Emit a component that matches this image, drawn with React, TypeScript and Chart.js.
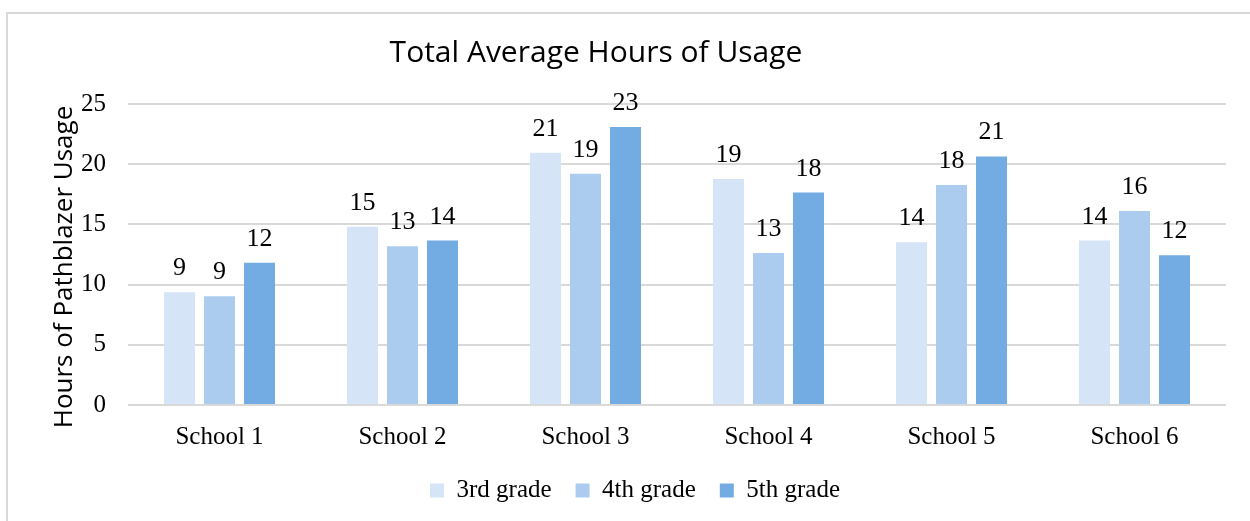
import React, { useEffect, useRef } from "react";
import { Chart, registerables } from "chart.js";

Chart.register(...registerables);

const categories = ["School 1", "School 2", "School 3", "School 4", "School 5", "School 6"];
const seriesLabels = ["3rd grade", "4th grade", "5th grade"];
const grade3 = [9.37, 14.8, 20.95, 18.78, 13.52, 13.66];
const grade4 = [9.04, 13.19, 19.2, 12.63, 18.28, 16.11];
const grade5 = [11.82, 13.66, 23.09, 17.64, 20.64, 12.44];
const seriesColors = ["#D5E4F6", "#ABCCEF", "#72ACE2"];
const yTicks = [0, 5, 10, 15, 20, 25];
const titleText = "Total Average Hours of Usage";
const yTitleText = "Hours of Pathblazer Usage";

const serif = '"Liberation Serif", "Times New Roman", serif';
const sans = '"Open Sans", "Noto Sans", sans-serif';

export default function App() {
  const ref = useRef<HTMLCanvasElement>(null);

  useEffect(() => {
    if (!ref.current) return;

    const titlePlugin = {
      id: "customTitles",
      afterDraw(chart: any) {
        const ctx = chart.ctx;
        ctx.save();
        ctx.font = `30px ${sans}`;
        ctx.fillStyle = "#000";
        ctx.textAlign = "center";
        ctx.textBaseline = "alphabetic";
        ctx.fillText(titleText, 596, 62);
        ctx.restore();

        ctx.save();
        ctx.font = `26px ${sans}`;
        ctx.fillStyle = "#000";
        ctx.textAlign = "center";
        ctx.textBaseline = "middle";
        ctx.translate(65, 267);
        ctx.rotate(-Math.PI / 2);
        ctx.fillText(yTitleText, 0, 0);
        ctx.restore();
      },
    };

    const labelPlugin = {
      id: "barLabels",
      afterDatasetsDraw(chart: any) {
        const ctx = chart.ctx;
        ctx.save();
        ctx.font = `26px ${serif}`;
        ctx.fillStyle = "#000";
        ctx.textAlign = "center";
        ctx.textBaseline = "alphabetic";
        chart.data.datasets.forEach((ds: any, i: number) => {
          const meta = chart.getDatasetMeta(i);
          meta.data.forEach((el: any, j: number) => {
            ctx.fillText(String(Math.round(ds.data[j])), el.x, el.y - 17);
          });
        });
        ctx.restore();
      },
    };

    const values = [grade3, grade4, grade5];
    const chart = new Chart(ref.current, {
      type: "bar",
      data: {
        labels: categories,
        datasets: values.map((v, i) => ({
          label: seriesLabels[i],
          data: v,
          backgroundColor: seriesColors[i],
          borderWidth: 0,
          categoryPercentage: 0.656,
          barPercentage: 0.775,
        })),
      },
      options: {
        responsive: false,
        animation: false,
        layout: { padding: { left: 44, right: 24, top: 104, bottom: 8 } },
        plugins: {
          title: { display: false },
          tooltip: { enabled: false },
          legend: {
            position: "bottom",
            labels: {
              boxWidth: 14,
              boxHeight: 14,
              padding: 24,
              color: "#000",
              font: { family: serif, size: 25 },
            },
          },
        },
        scales: {
          x: {
            afterFit(s: any) {
              s.height = 49;
            },
            grid: { display: false, drawTicks: false },
            border: { display: false },
            ticks: { color: "#000", padding: 17, font: { family: serif, size: 25 } },
          },
          y: {
            min: 0,
            max: 25,
            afterFit(s: any) {
              s.width = 84;
            },
            afterBuildTicks(s: any) {
              s.ticks = yTicks.map((v) => ({ value: v }));
            },
            grid: { color: "#D9D9D9", lineWidth: 2, drawTicks: false },
            border: { display: false },
            ticks: { color: "#000", padding: 22, font: { family: serif, size: 25 } },
            title: { display: false },
          },
        },
      },
      plugins: [titlePlugin, labelPlugin],
    });
    return () => chart.destroy();
  }, []);

  return (
    <div style={{ position: "fixed", left: 0, top: 0, width: 1250, height: 521, background: "#fff", overflow: "hidden" }}>
      <div
        style={{
          position: "absolute",
          left: 6,
          top: 12,
          width: 1244,
          height: 509,
          borderTop: "2px solid #D9D9D9",
          borderLeft: "2px solid #D9D9D9",
          boxSizing: "border-box",
        }}
      />
      <canvas ref={ref} width={1250} height={521} style={{ position: "absolute", left: 0, top: 0, width: 1250, height: 521 }} />
    </div>
  );
}
